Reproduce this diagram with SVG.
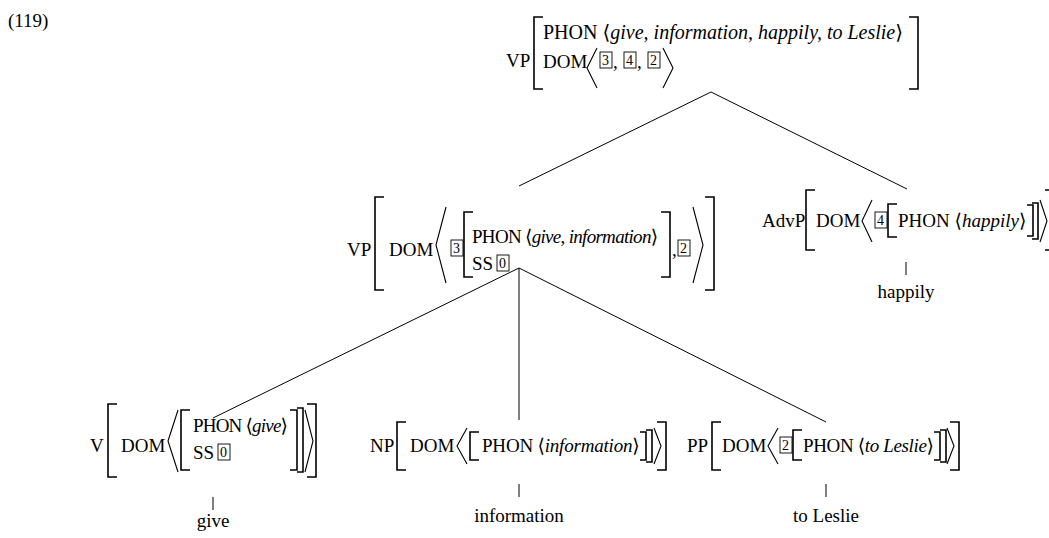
<svg xmlns="http://www.w3.org/2000/svg" width="1049" height="538" viewBox="0 0 1049 538">
<style>
text{font-family:"Liberation Serif","DejaVu Serif",serif;font-size:19px;fill:#000}
.i{font-style:italic}
.n{font-size:14px}
.br{fill:none;stroke:#000;stroke-width:1.6}
.ang{fill:none;stroke:#000;stroke-width:1.1}
.bx{fill:none;stroke:#000;stroke-width:0.9}
.ln{stroke:#000;stroke-width:1;fill:none}
</style>
<rect width="1049" height="538" fill="#fff"/>
<text x="8" y="27">(119)</text>

<g id="connectors">
<line class="ln" x1="711" y1="92" x2="519" y2="186"/>
<line class="ln" x1="711" y1="92" x2="907" y2="189"/>
<line class="ln" x1="519" y1="268" x2="213" y2="418"/>
<line class="ln" x1="519" y1="268" x2="519" y2="420"/>
<line class="ln" x1="519" y1="268" x2="826" y2="422"/>
<line class="ln" x1="906" y1="262" x2="906" y2="275"/>
<line class="ln" x1="213" y1="497" x2="213" y2="510"/>
<line class="ln" x1="519" y1="484" x2="519" y2="497"/>
<line class="ln" x1="826" y1="484" x2="826" y2="497"/>
</g>

<g id="vp-top">
<text x="506" y="67">VP</text>
<path class="br" d="M543 17H534V89H543"/>
<text x="543" y="39" style="font-size:20px">PHON ⟨<tspan class="i">give, information, happily, to Leslie</tspan>⟩</text>
<text x="543" y="68">DOM</text>
<path class="ang" d="M597 48L587 68L597 88"/>
<rect class="bx" x="600" y="52" width="12" height="16"/><text class="n" x="602" y="65">3</text>
<text x="613" y="68">,</text>
<rect class="bx" x="624" y="52" width="12" height="16"/><text class="n" x="626" y="65">4</text>
<text x="637" y="68">,</text>
<rect class="bx" x="648" y="52" width="12" height="16"/><text class="n" x="650" y="65">2</text>
<path class="ang" d="M663 48L673 68L663 88"/>
<path class="br" d="M909 17H918V89H909"/>
</g>

<g id="vp-mid">
<text x="347" y="256">VP</text>
<path class="br" d="M384 197H375V290H384"/>
<text x="389" y="256">DOM</text>
<path class="ang" d="M446 207L436 245L446 283"/>
<rect class="bx" x="451" y="240" width="12" height="16"/><text class="n" x="453" y="253">3</text>
<path class="br" d="M473 212H464V277H473"/>
<text x="472" y="243" letter-spacing="-0.7">PHON ⟨<tspan class="i">give</tspan>, <tspan class="i">information</tspan>⟩</text>
<text x="472" y="270">SS</text>
<rect class="bx" x="497" y="255" width="12" height="16"/><text class="n" x="499" y="268">0</text>
<path class="br" d="M661 212H670V277H661"/>
<text x="672" y="256">,</text>
<rect class="bx" x="678" y="240" width="12" height="16"/><text class="n" x="680" y="253">2</text>
<path class="ang" d="M693 207L703 245L693 283"/>
<path class="br" d="M705 197H714V290H705"/>
</g>

<g id="advp">
<text x="762" y="227">AdvP</text>
<path class="br" d="M815 190H806V250H815"/>
<text x="816" y="227">DOM</text>
<path class="ang" d="M872 200L862 221L872 242"/>
<rect class="bx" x="875" y="212" width="12" height="16"/><text class="n" x="877" y="225">4</text>
<path class="br" d="M897 204H888V237H897"/>
<text x="898" y="227">PHON ⟨<tspan class="i">happily</tspan>⟩</text>
<path class="br" d="M1027 205H1033V236H1027"/>
<path class="br" d="M1032 203H1038V239H1032"/>
<path class="ang" d="M1040 200L1047 221L1040 242"/>
<path class="br" d="M1045 190H1051V250H1045"/>
<text x="906" y="298" text-anchor="middle">happily</text>
</g>

<g id="v">
<text x="90" y="452">V</text>
<path class="br" d="M117 404H108V477H117"/>
<text x="121" y="452">DOM</text>
<path class="ang" d="M178 410L168 441L178 472"/>
<path class="br" d="M190 410H181V470H190"/>
<text x="193" y="432" letter-spacing="-0.8">PHON ⟨<tspan class="i">give</tspan>⟩</text>
<text x="193" y="459">SS</text>
<rect class="bx" x="218" y="444" width="12" height="16"/><text class="n" x="220" y="457">0</text>
<path class="br" d="M290 410H297V470H290"/>
<path class="br" d="M297 408H303V472H297"/>
<path class="ang" d="M305 410L313 441L305 472"/>
<path class="br" d="M307 404H316V477H307"/>
<text x="213" y="527" text-anchor="middle">give</text>
</g>

<g id="np">
<text x="370" y="452">NP</text>
<path class="br" d="M406 422H397V470H406"/>
<text x="410" y="452">DOM</text>
<path class="ang" d="M467 428L457 446L467 464"/>
<path class="br" d="M479 432H470V460H479"/>
<text x="482" y="452" letter-spacing="-0.2">PHON ⟨<tspan class="i">information</tspan>⟩</text>
<path class="br" d="M640 432H646V460H640"/>
<path class="br" d="M646 430H652V462H646"/>
<path class="ang" d="M654 428L661 446L654 464"/>
<path class="br" d="M657 422H666V470H657"/>
<text x="519" y="522" text-anchor="middle">information</text>
</g>

<g id="pp">
<text x="687" y="452">PP</text>
<path class="br" d="M721 422H712V470H721"/>
<text x="722" y="452">DOM</text>
<path class="ang" d="M778 428L768 446L778 464"/>
<rect class="bx" x="780" y="437" width="12" height="16"/><text class="n" x="782" y="450">2</text>
<path class="br" d="M802 430H793V460H802"/>
<text x="803" y="452" letter-spacing="-0.35">PHON ⟨<tspan class="i">to Leslie</tspan>⟩</text>
<path class="br" d="M934 432H940V460H934"/>
<path class="br" d="M940 430H946V462H940"/>
<path class="ang" d="M947 428L954 446L947 464"/>
<path class="br" d="M950 422H959V470H950"/>
<text x="826" y="522" text-anchor="middle">to Leslie</text>
</g>
</svg>
